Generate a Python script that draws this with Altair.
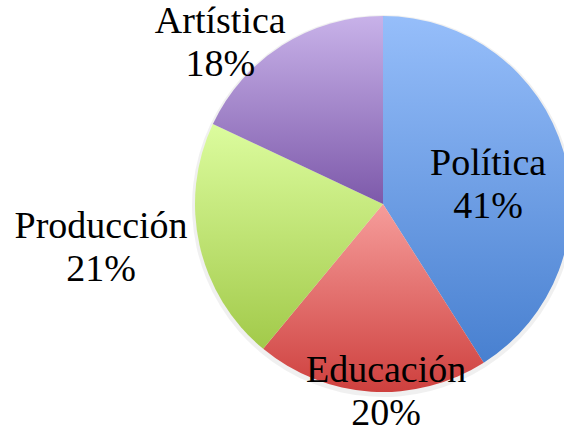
import altair as alt
import pandas as pd

categories = ["Política", "Educación", "Producción", "Artística"]
values = [41, 20, 21, 18]
pct_labels = ["41%", "20%", "21%", "18%"]

# styling / layout (not data)
grad_top = ["#96BEFA", "#F69D9B", "#DCFC9E", "#C8B2E9"]
grad_bot = ["#4880D0", "#CE403E", "#A2CA4A", "#7D59AA"]
label_r = [109, 178, 284, 236]
label_nudge = [0.8, -4.6, 5.7, -11.2]
CX, CY, R = 383, 204, 188

df = pd.DataFrame({
    "cat": categories,
    "v": values,
    "pct": pct_labels,
    "idx": list(range(len(categories))),
    "lr": label_r,
    "nudge": label_nudge,
})


def grad(top, bot):
    return {
        "gradient": "linear", "x1": 0, "y1": 0, "x2": 0, "y2": 1,
        "stops": [{"offset": 0, "color": top}, {"offset": 1, "color": bot}],
    }


conds = [
    {"test": f"datum.cat === '{c}'", "value": grad(t, b)}
    for c, t, b in zip(categories[:-1], grad_top[:-1], grad_bot[:-1])
]
fill = alt.value(grad(grad_top[-1], grad_bot[-1]), condition=conds)

base = alt.Chart(df)

shadow = base.mark_arc(radius=R + 3, color="#000000", opacity=0.06).encode(
    theta=alt.Theta("v:Q", stack=True),
    order=alt.Order("idx:Q"),
    x=alt.value(CX), y=alt.value(CY + 2),
)

pie = base.mark_arc(radius=R, strokeWidth=0).encode(
    theta=alt.Theta("v:Q", stack=True),
    order=alt.Order("idx:Q"),
    color=fill,
    x=alt.value(CX), y=alt.value(CY),
)

labels = base.transform_window(
    cum="sum(v)", sort=[alt.SortField("idx")]
).transform_joinaggregate(
    total="sum(v)"
).transform_calculate(
    ang=f"(datum.cum - datum.v / 2) / datum.total * 2 * PI + datum.nudge * PI / 180",
).transform_calculate(
    lx=f"{CX} + datum.lr * sin(datum.ang)",
    ly=f"{CY} - datum.lr * cos(datum.ang)",
    label="datum.cat + '\\n' + datum.pct",
).mark_text(
    font="Liberation Serif", fontSize=38, lineHeight=43, lineBreak="\n",
    baseline="alphabetic", align="center", color="#000000",
).encode(
    x=alt.X("lx:Q", scale=None, axis=None),
    y=alt.Y("ly:Q", scale=None, axis=None),
    text="label:N",
)

chart = alt.layer(shadow, pie, labels).properties(
    width=564, height=434, padding=0, autosize="none", background="white"
).configure_view(stroke=None)

chart.save("out.html", embed_options={"renderer": "svg", "actions": False})
